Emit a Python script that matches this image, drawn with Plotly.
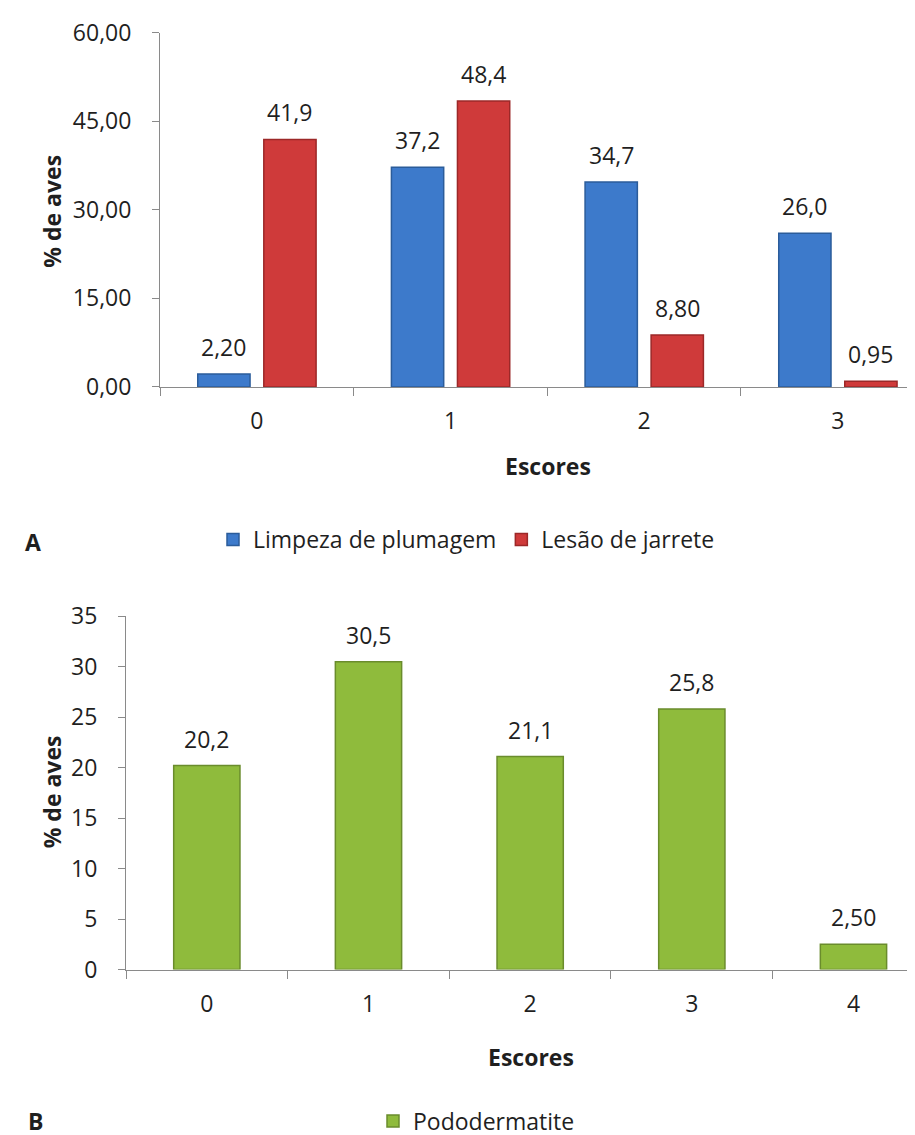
import plotly.graph_objects as go

# ---------------- data ----------------
categories_A = ["0", "1", "2", "3"]
limpeza_plumagem = [2.20, 37.2, 34.7, 26.0]
lesao_jarrete = [41.9, 48.4, 8.80, 0.95]
labels_limpeza = ["2,20", "37,2", "34,7", "26,0"]
labels_lesao = ["41,9", "48,4", "8,80", "0,95"]
yticks_A = [0, 15, 30, 45, 60]

categories_B = ["0", "1", "2", "3", "4"]
pododermatite = [20.2, 30.5, 21.1, 25.8, 2.50]
labels_podo = ["20,2", "30,5", "21,1", "25,8", "2,50"]
yticks_B = [0, 5, 10, 15, 20, 25, 30, 35]

# ---------------- style ----------------
W, H = 915, 1135
FONT = "Open Sans"
TXT = "#1f1f1f"
AXC = "#8a8a8a"
FS = 23

BLUE, BLUE_L = "#3d7acb", "#2b5c9a"
RED, RED_L = "#cf3a3a", "#9c2828"
GREEN, GREEN_L = "#8fbb3c", "#6a8c2c"

BW_A = 0.27      # bar width (category units), chart A
OFF_BLUE = -0.305
OFF_RED = 0.036
BW_B = 0.41
OFF_B = -0.205

fig = go.Figure()

fig.add_trace(go.Bar(
    x=categories_A, y=limpeza_plumagem, name="Limpeza de plumagem",
    width=BW_A, offset=OFF_BLUE, xaxis="x", yaxis="y",
    marker=dict(color=BLUE, line=dict(color=BLUE_L, width=1.5)),
    legend="legend", hoverinfo="x+y"))
fig.add_trace(go.Bar(
    x=categories_A, y=lesao_jarrete, name="Lesão de jarrete",
    width=BW_A, offset=OFF_RED, xaxis="x", yaxis="y",
    marker=dict(color=RED, line=dict(color=RED_L, width=1.5)),
    legend="legend", hoverinfo="x+y"))
fig.add_trace(go.Bar(
    x=categories_B, y=pododermatite, name="Pododermatite",
    width=BW_B, offset=OFF_B, xaxis="x2", yaxis="y2",
    marker=dict(color=GREEN, line=dict(color=GREEN_L, width=1.5)),
    legend="legend2", hoverinfo="x+y"))

annotations = []
# value labels above bars
for i, (v, t) in enumerate(zip(limpeza_plumagem, labels_limpeza)):
    annotations.append(dict(x=i + OFF_BLUE + BW_A / 2, y=v, xref="x", yref="y", text=t,
                            showarrow=False, yanchor="bottom", yshift=9,
                            font=dict(size=FS, color=TXT)))
for i, (v, t) in enumerate(zip(lesao_jarrete, labels_lesao)):
    annotations.append(dict(x=i + OFF_RED + BW_A / 2, y=v, xref="x", yref="y", text=t,
                            showarrow=False, yanchor="bottom", yshift=9,
                            font=dict(size=FS, color=TXT)))
for i, (v, t) in enumerate(zip(pododermatite, labels_podo)):
    annotations.append(dict(x=i + OFF_B + BW_B / 2, y=v, xref="x2", yref="y2", text=t,
                            showarrow=False, yanchor="bottom", yshift=9,
                            font=dict(size=FS, color=TXT)))

def px(x):
    return x / W

def py(y):
    return 1 - y / H

# axis titles and panel letters
bold = dict(size=FS, color=TXT, family=FONT, weight="bold")
annotations += [
    dict(x=px(44), y=py(207), xref="paper", yref="paper", text="<b>% de aves</b>",
         textangle=-90, showarrow=False, xanchor="center", yanchor="middle", font=bold),
    dict(x=px(540), y=py(465), xref="paper", yref="paper", text="<b>Escores</b>",
         showarrow=False, xanchor="center", yanchor="middle", font=bold),
    dict(x=px(44), y=py(797), xref="paper", yref="paper", text="<b>% de aves</b>",
         textangle=-90, showarrow=False, xanchor="center", yanchor="middle", font=bold),
    dict(x=px(523), y=py(1066), xref="paper", yref="paper", text="<b>Escores</b>",
         showarrow=False, xanchor="center", yanchor="middle", font=bold),
    dict(x=px(25), y=py(543), xref="paper", yref="paper", text="<b>A</b>",
         showarrow=False, xanchor="center", yanchor="middle", font=bold),
    dict(x=px(27), y=py(1131), xref="paper", yref="paper", text="<b>B</b>",
         showarrow=False, xanchor="center", yanchor="middle", font=bold),
]

common_x = dict(type="category", tickson="boundaries", ticks="outside", ticklen=8,
                tickcolor=AXC, tickwidth=1, showline=True, linecolor=AXC, linewidth=1,
                showgrid=False, zeroline=False, automargin=False,
                tickfont=dict(size=FS, color=TXT), ticklabelstandoff=14, fixedrange=True)
common_y = dict(ticks="outside", ticklen=7, tickcolor=AXC, tickwidth=1, showline=True,
                linecolor=AXC, linewidth=1, showgrid=False, zeroline=False,
                automargin=False, tickfont=dict(size=FS, color=TXT),
                ticklabelstandoff=16, fixedrange=True)

fig.update_layout(
    width=W, height=H,
    margin=dict(l=0, r=0, t=0, b=0),
    paper_bgcolor="white", plot_bgcolor="white",
    font=dict(family=FONT, size=FS, color=TXT),
    separators=",.",
    barmode="overlay",
    xaxis=dict(domain=[px(152), 1], range=[-0.5, 3.44], anchor="y", **common_x),
    yaxis=dict(domain=[py(385), py(25)], range=[0, 60], tickvals=yticks_A,
               tickformat=".2f", anchor="x", **common_y),
    xaxis2=dict(domain=[px(118), 1], range=[-0.5, 4.43], anchor="y2", **common_x),
    yaxis2=dict(domain=[py(977), py(618)], range=[0, 35], tickvals=yticks_B,
                anchor="x2", **common_y),
    legend=dict(orientation="h", x=px(205), y=py(540), xanchor="left", yanchor="middle",
                font=dict(size=FS, color=TXT), itemwidth=30, bgcolor="rgba(0,0,0,0)",
                itemclick=False, itemdoubleclick=False),
    legend2=dict(orientation="h", x=px(365), y=py(1131), xanchor="left", yanchor="middle",
                 font=dict(size=FS, color=TXT), itemwidth=30, bgcolor="rgba(0,0,0,0)",
                 itemclick=False, itemdoubleclick=False),
    annotations=annotations,
    showlegend=True,
)

fig.write_html("out.html")
